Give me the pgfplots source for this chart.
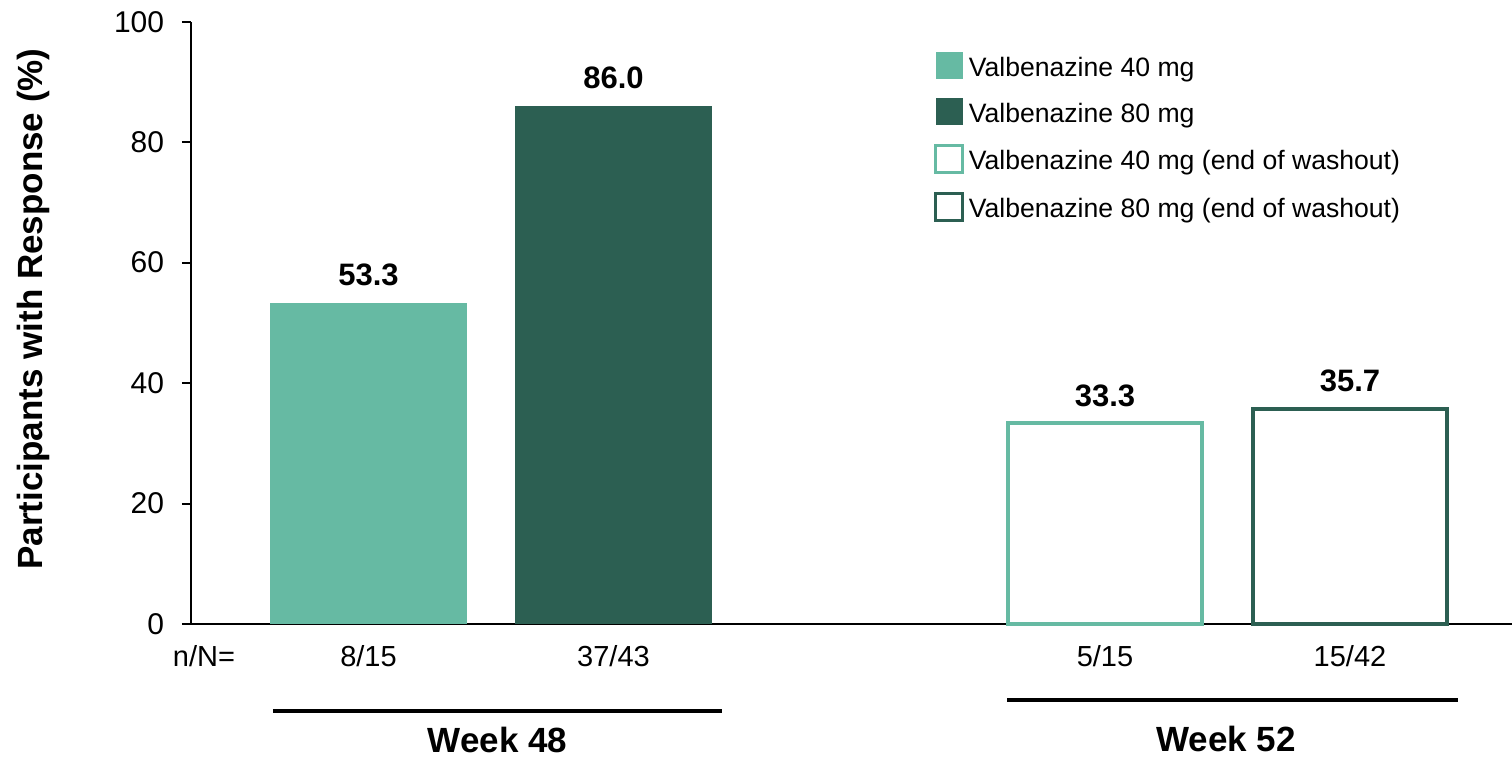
\documentclass[border=0pt]{standalone}
\usepackage{pgfplots}
\pgfplotsset{compat=1.18}
\usepackage{fontspec}
\setmainfont{Liberation Sans}
\definecolor{vlight}{RGB}{102,186,163}
\definecolor{vdark}{RGB}{44,95,82}
\begin{document}
\begin{tikzpicture}
\begin{axis}[
  scale only axis, width=660.25pt, height=301.15pt,
  xmin=191.5, xmax=1512, ymin=0, ymax=100,
  axis lines*=left,
  axis line style={line width=1pt, black},
  clip=false,
  /pgf/number format/assume math mode=true,
  ybar,
  ytick={0,20,40,60,80,100},
  tick align=outside,
  major tick length=4.75pt,
  ytick style={line width=1pt, black},
  yticklabel style={font=\fontsize{15}{18}\selectfont, anchor=east, inner sep=0pt, xshift=-8.75pt},
  xtick={204,368.5,613.5,1105,1350},
  xticklabels={n/N=,8/15,37/43,5/15,15/42},
  xtick style={draw=none},
  xticklabel style={anchor=base, inner sep=0pt, yshift=-16.75pt, font=\fontsize{14.5}{17}\selectfont},
  ylabel={Participants with Response (\%)},
  ylabel style={at={(rel axis cs:-0.11245,0.523)}, anchor=base, inner sep=0pt, font=\bfseries\fontsize{17.5}{21}\selectfont},
  nodes near coords={\pgfmathprintnumber[fixed,fixed zerofill,precision=1]{\pgfplotspointmeta}},
  nodes near coords style={anchor=base, inner sep=0pt, yshift=8.5pt, font=\bfseries\fontsize{15.5}{18}\selectfont, text=black},
  legend style={at={(axis cs:934,94.95)}, anchor=north west, draw=none, fill=none, inner sep=0pt, row sep=9.2pt, column sep=2.2pt, font=\fontsize{13.3}{15}\selectfont, nodes={inner sep=0pt}},
  legend cell align=left,
]
\addplot[bar shift=0pt, bar width=197, fill=vlight, draw=none,
  legend image code/.code={\fill[vlight] (0pt,-5.5pt) rectangle (13.5pt,8pt);}] coordinates {(368.5,53.3)};
\addplot[bar shift=0pt, bar width=197, fill=vdark, draw=none,
  legend image code/.code={\fill[vdark] (0pt,-5.5pt) rectangle (13.5pt,8pt);}] coordinates {(613.5,86.0)};
\addplot[bar shift=0pt, bar width=194, fill=white, draw=vlight, line width=2pt,
  legend image code/.code={\draw[vlight, line width=1.5pt, fill=white] (0pt,-5.5pt) rectangle (13.5pt,8pt);}] coordinates {(1105,33.3)};
\addplot[bar shift=0pt, bar width=194, fill=white, draw=vdark, line width=2pt,
  legend image code/.code={\draw[vdark, line width=1.5pt, fill=white] (0pt,-5.5pt) rectangle (13.5pt,8pt);}] coordinates {(1350,35.7)};
\legend{Valbenazine 40 mg, Valbenazine 80 mg, Valbenazine 40 mg (end of washout), Valbenazine 80 mg (end of washout)}
\draw[line width=2pt] (axis cs:273,-14.44) -- (axis cs:722,-14.44);
\draw[line width=2pt] (axis cs:1007,-12.62) -- (axis cs:1458,-12.62);
\node[anchor=base, inner sep=0pt, font=\bfseries\fontsize{17.5}{21}\selectfont] at (axis cs:497.5,-21.4) {Week 48};
\node[anchor=base, inner sep=0pt, font=\bfseries\fontsize{17.5}{21}\selectfont] at (axis cs:1226,-21.1) {Week 52};
\coordinate (TL) at (axis cs:0,103.6);
\coordinate (BR) at (axis cs:1512,-22.25);
\end{axis}
\pgfresetboundingbox
\useasboundingbox (TL) rectangle (BR);
\end{tikzpicture}
\end{document}
